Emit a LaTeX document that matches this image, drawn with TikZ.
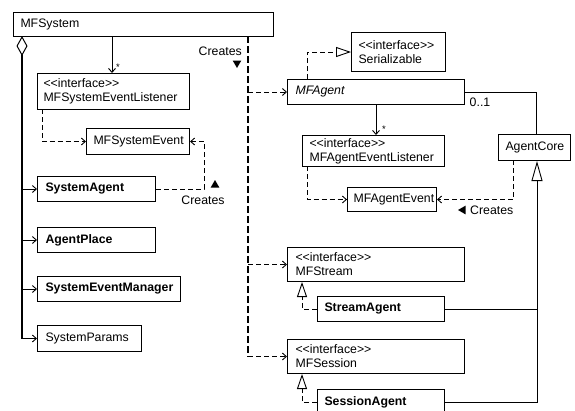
\documentclass[tikz,border=0pt]{standalone}
\usepackage{fontspec}
\setmainfont{Liberation Sans}
\usetikzlibrary{arrows.meta,shapes.geometric}
% stereotype text; the kerns keep << and >> from turning into guillemets
\newcommand\stereoiface{<\kern0pt<interface>\kern0pt>}
\tikzset{
  cls/.style={draw, line width=1pt, anchor=north west, inner xsep=7pt, inner ysep=0pt,
              align=left, font=\fontsize{12.3}{14}\selectfont},
  nav/.style={line width=0.9pt, -{Straight Barb[length=4pt,width=7pt,line width=0.9pt]}},
  dep/.style={line width=0.9pt, dash pattern=on 5pt off 3pt,
              -{Straight Barb[length=4pt,width=7pt,line width=0.9pt]}},
  realize/.style={line width=0.9pt, dash pattern=on 5pt off 3pt,
              -{Triangle[open,length=15pt,width=10pt,line width=0.9pt,fill=white]}},
  inherit/.style={line width=0.9pt,
              -{Triangle[open,length=20pt,width=11pt,line width=0.9pt,fill=white]}},
  trunk/.style={line width=1.8pt},
  busline/.style={line width=1.8pt, dash pattern=on 7pt off 3pt},
  lbl/.style={inner sep=0pt, font=\fontsize{12.3}{14}\selectfont},
  small/.style={inner sep=0pt, font=\fontsize{9.5}{10}\selectfont},
  arrowhint/.style={regular polygon, regular polygon sides=3, fill=black, draw=none,
              inner sep=0pt, minimum size=10pt}
}
\begin{document}
\begin{tikzpicture}[x=1pt, y=-1pt]
\useasboundingbox (0,0) rectangle (575,410);
\fill[white] (0,0) rectangle (575,410);
\clip (0,0) rectangle (575,410);

% ---- classes ----
\node[cls, text width=246pt, minimum height=24pt] (sys) at (13,12) {MFSystem};
\node[cls, text width=140pt, minimum height=36pt, inner xsep=6pt] (sel) at (37,73)
  {\stereoiface\\MFSystemEventListener};
\node[cls, text width=89pt, minimum height=26pt] (sev) at (86,128) {MFSystemEvent};
\node[cls, text width=102pt, minimum height=25pt, inner xsep=8pt] (sa) at (37,176) {\bfseries SystemAgent};
\node[cls, text width=102pt, minimum height=25pt, inner xsep=8pt] (ap) at (37,227) {\bfseries AgentPlace};
\node[cls, text width=127pt, minimum height=25pt, inner xsep=8pt] (sem) at (37,276) {\bfseries SystemEventManager};
\node[cls, text width=88pt, minimum height=26pt, inner xsep=8pt] (sp) at (37,325) {SystemParams};

\node[cls, text width=80pt, minimum height=39pt] (ser) at (351,32) {\stereoiface\\Serializable};
\node[cls, text width=161pt, minimum height=25pt, inner xsep=8pt] (ag) at (287,79) {\itshape MFAgent};
\node[cls, text width=128pt, minimum height=31pt] (ael) at (302,135)
  {\stereoiface\\MFAgentEventListener};
\node[cls, text width=77pt, minimum height=24pt, inner xsep=6pt] (aev) at (347,187) {MFAgentEvent};
\node[cls, text width=58pt, minimum height=26pt] (ac) at (498,134) {AgentCore};
\node[cls, text width=161pt, minimum height=34pt, inner xsep=8pt] (ms) at (287,247) {\stereoiface\\MFStream};
\node[cls, text width=113pt, minimum height=25pt] (sta) at (317,296) {\bfseries StreamAgent};
\node[cls, text width=161pt, minimum height=34pt, inner xsep=8pt] (mss) at (287,339) {\stereoiface\\MFSession};
\node[cls, text width=113pt, minimum height=25pt] (ssa) at (317,389) {\bfseries SessionAgent};

% ---- aggregation trunk of MFSystem ----
\coordinate (agg) at (22,36);
\draw[trunk, {Diamond[open,length=20pt,width=11pt,line width=1pt,fill=white]}-]
  (agg) -- (agg |- sp.west);
\draw[nav] (agg |- sa.west) -- (sa.west);
\draw[nav] (agg |- ap.west) -- (ap.west);
\draw[nav] (agg |- sem.west) -- (sem.west);
\draw[nav] (agg |- sp.west) -- (sp.west);

% ---- MFSystem to listener ----
\coordinate (selin) at (112,36);
\draw[nav] (selin) -- (selin |- sel.north);
\node[small] (star1) at (118,67) {*};

% ---- system event dependencies ----
\coordinate (selout) at (42,109);
\draw[dep] (selout) |- (sev.west);
\coordinate (sacorner) at (204,0);
\draw[dep] (sa.east) -- (sa.east -| sacorner) |- (sev.east);
\node[arrowhint] (cr2t) at (215,185) {};
\node[lbl] (cr2) at (203,200) {Creates};

% ---- creation bus ----
\coordinate (bus) at (248,36);
\draw[busline] (bus) -- (bus |- mss.west);
\draw[dep] (bus |- ag.west) -- (ag.west);
\draw[dep] (bus |- ms.west) -- (ms.west);
\draw[dep] (bus |- mss.west) -- (mss.west);
\node[lbl, anchor=east] (cr1) at (242,51) {Creates};
\node[arrowhint, shape border rotate=180] (cr1t) at (237,63) {};

% ---- MFAgent relations ----
\coordinate (agreal) at (307,79);
\draw[realize] (agreal) |- (ser.west);
\coordinate (aelin) at (376,104);
\draw[nav] (aelin) -- (aelin |- ael.north);
\node[small] (star2) at (384,129) {*};
\coordinate (accol) at (536,0);
\draw[line width=0.9pt] (ag.east) -- (ag.east -| accol) -- (accol |- ac.north);
\node[lbl] (mult) at (480,102) {0..1};

% ---- agent event dependencies ----
\coordinate (aelout) at (307,166);
\draw[dep] (aelout) |- (aev.west);
\coordinate (acout) at (513,160);
\draw[dep] (acout) |- (aev.east);
\node[arrowhint, shape border rotate=90] (cr3t) at (463,210) {};
\node[lbl, anchor=west] (cr3) at (470,210) {Creates};

% ---- interface realizations ----
\coordinate (msreal) at (302,0);
\draw[realize] (sta.west) -- (sta.west -| msreal) -- (msreal |- ms.south);
\draw[realize] (ssa.west) -- (ssa.west -| msreal) -- (msreal |- mss.south);

% ---- AgentCore generalization ----
\coordinate (gen) at (537,0);
\draw[line width=0.9pt] (sta.east) -- (sta.east -| gen);
\draw[inherit] (ssa.east) -- (ssa.east -| gen) -- (gen |- ac.south);
\end{tikzpicture}
\end{document}
